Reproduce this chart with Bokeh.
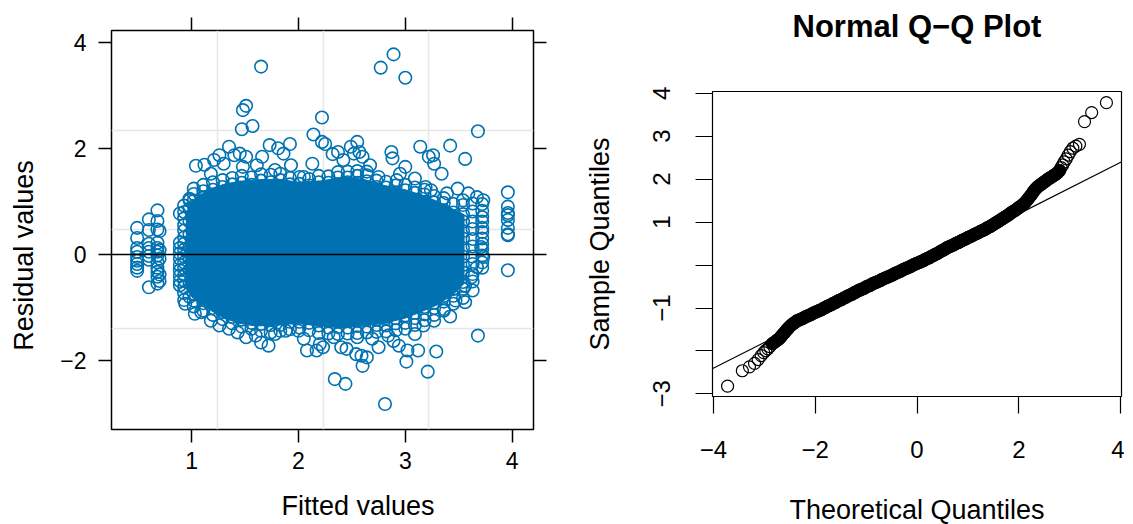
import math
from bokeh.plotting import figure
from bokeh.layouts import row, column
from bokeh.models import FixedTicker, LinearAxis, Span, Slope, Range1d, ColumnDataSource
from bokeh.embed import file_html
from bokeh.resources import INLINE

FONT = "Liberation Sans"
BLUE = "#0072B2"

# ---------------- left panel: residuals vs fitted ----------------
x_ticks = [1, 2, 3, 4]
y_ticks = [-2, 0, 2, 4]
grid_fitted = [1.244, 2.23, 3.22]
grid_resid = [-1.40, 0.47, 2.34]

# isolated columns of points at discrete fitted values
col_fitted = [0.49, 0.60, 0.68, 0.70, 0.89, 3.72, 3.96]
col_resid = [
    [0.50, 0.31, 0.12, 0.05, -0.05, -0.12, -0.18, -0.25, -0.31],
    [0.66, 0.46, 0.20, 0.12, 0.05, -0.03, -0.10, -0.62],
    [0.83, 0.63, 0.47, 0.22, 0.12, 0.05, -0.02, -0.15, -0.25, -0.33, -0.42, -0.55],
    [0.44, 0.08, -0.08, -0.38, -0.50],
    [0.77, 0.22, 0.12, 0.02, -0.08, -0.20, -0.30, -0.40, -0.50, -0.58],
    [0.95, 0.82, 0.70, 0.62, 0.50, 0.42, 0.30, 0.20, 0.10, -0.02, -0.15, -0.25],
    [1.17, 0.90, 0.78, 0.74, 0.65, 0.50, 0.38, 0.36, -0.30],
]

# dense core of the cloud, column by column
core_fitted = [0.93, 0.98, 1.02, 1.11, 1.20, 1.29, 1.38, 1.47, 1.56, 1.65, 1.74, 1.83, 1.92,
               2.01, 2.10, 2.19, 2.28, 2.37, 2.46, 2.55, 2.64, 2.73, 2.82, 2.91, 3.00, 3.09,
               3.18, 3.27, 3.36, 3.45, 3.54, 3.63]
core_resid = [
    [-0.86, -0.73, -0.62, -0.49, -0.39, -0.26, -0.15, -0.04, 0.09, 0.20, 0.32, 0.45, 0.55, 0.68, 0.80, 0.92],
    [-0.80, -0.55, -0.30, -0.08, 0.15, 0.38, 0.62, 0.86, 1.05],
    [-0.98, -0.87, -0.74, -0.63, -0.50, -0.40, -0.27, -0.16, -0.03, 0.07, 0.20, 0.31, 0.43, 0.54, 0.67, 0.78, 0.91, 1.01, 1.14, 1.24],
    [-1.06, -0.92, -0.82, -0.69, -0.59, -0.45, -0.35, -0.21, -0.11, 0.02, 0.13, 0.26, 0.36, 0.50, 0.60, 0.73, 0.83, 0.96, 1.07, 1.19, 1.31],
    [-1.14, -1.01, -0.91, -0.78, -0.65, -0.55, -0.41, -0.31, -0.18, -0.07, 0.06, 0.16, 0.29, 0.40, 0.53, 0.63, 0.76, 0.87, 0.99, 1.12, 1.22, 1.36],
    [-1.22, -1.09, -0.99, -0.85, -0.75, -0.62, -0.52, -0.38, -0.28, -0.14, -0.05, 0.09, 0.19, 0.33, 0.43, 0.56, 0.68, 0.78, 0.92, 1.02, 1.15, 1.27, 1.40],
    [-1.30, -1.18, -1.05, -0.95, -0.81, -0.71, -0.57, -0.47, -0.34, -0.24, -0.10, 0.00, 0.13, 0.25, 0.35, 0.49, 0.59, 0.72, 0.84, 0.95, 1.08, 1.18, 1.32, 1.44],
    [-1.36, -1.23, -1.13, -0.99, -0.90, -0.76, -0.66, -0.52, -0.42, -0.29, -0.19, -0.05, 0.05, 0.19, 0.28, 0.42, 0.54, 0.64, 0.78, 0.87, 1.01, 1.11, 1.25, 1.35, 1.48],
    [-1.40, -1.29, -1.15, -1.05, -0.92, -0.82, -0.68, -0.58, -0.45, -0.35, -0.21, -0.11, 0.03, 0.13, 0.26, 0.36, 0.50, 0.60, 0.74, 0.83, 0.97, 1.07, 1.21, 1.31, 1.45],
    [-1.44, -1.31, -1.21, -1.07, -0.97, -0.84, -0.74, -0.60, -0.50, -0.36, -0.27, -0.13, -0.03, 0.11, 0.21, 0.34, 0.44, 0.58, 0.68, 0.82, 0.91, 1.05, 1.15, 1.29, 1.39, 1.51],
    [-1.47, -1.33, -1.23, -1.10, -1.00, -0.86, -0.76, -0.62, -0.53, -0.39, -0.29, -0.15, -0.06, 0.08, 0.18, 0.32, 0.42, 0.55, 0.65, 0.79, 0.89, 1.03, 1.12, 1.26, 1.36, 1.50],
    [-1.44, -1.33, -1.19, -1.09, -0.96, -0.86, -0.72, -0.62, -0.49, -0.39, -0.25, -0.15, -0.02, 0.08, 0.22, 0.32, 0.46, 0.55, 0.69, 0.79, 0.93, 1.03, 1.16, 1.26, 1.40, 1.52],
    [-1.41, -1.27, -1.17, -1.04, -0.94, -0.80, -0.70, -0.57, -0.47, -0.33, -0.23, -0.09, 0.01, 0.14, 0.24, 0.38, 0.48, 0.61, 0.71, 0.85, 0.95, 1.08, 1.18, 1.32, 1.44],
    [-1.38, -1.27, -1.13, -1.03, -0.90, -0.80, -0.66, -0.56, -0.42, -0.33, -0.19, -0.09, 0.05, 0.15, 0.28, 0.38, 0.52, 0.62, 0.75, 0.85, 0.99, 1.09, 1.23, 1.33, 1.46],
    [-1.43, -1.29, -1.19, -1.05, -0.96, -0.82, -0.72, -0.58, -0.48, -0.35, -0.25, -0.11, -0.01, 0.13, 0.22, 0.36, 0.46, 0.60, 0.69, 0.83, 0.93, 1.07, 1.17, 1.30, 1.42],
    [-1.48, -1.34, -1.24, -1.10, -1.00, -0.87, -0.77, -0.63, -0.53, -0.39, -0.30, -0.16, -0.06, 0.08, 0.18, 0.31, 0.41, 0.55, 0.65, 0.78, 0.88, 1.02, 1.12, 1.26, 1.36, 1.48],
    [-1.49, -1.38, -1.24, -1.14, -1.01, -0.91, -0.77, -0.67, -0.53, -0.44, -0.30, -0.20, -0.06, 0.04, 0.17, 0.27, 0.41, 0.51, 0.65, 0.74, 0.88, 0.98, 1.12, 1.22, 1.35, 1.47],
    [-1.50, -1.37, -1.27, -1.13, -1.04, -0.90, -0.80, -0.66, -0.56, -0.43, -0.33, -0.19, -0.09, 0.05, 0.14, 0.28, 0.38, 0.52, 0.62, 0.75, 0.85, 0.99, 1.09, 1.23, 1.32, 1.45, 1.55],
    [-1.49, -1.38, -1.24, -1.14, -1.00, -0.91, -0.77, -0.67, -0.53, -0.43, -0.30, -0.20, -0.06, 0.04, 0.18, 0.27, 0.41, 0.51, 0.65, 0.75, 0.88, 0.98, 1.12, 1.22, 1.36, 1.45, 1.56],
    [-1.48, -1.35, -1.25, -1.11, -1.01, -0.88, -0.78, -0.64, -0.54, -0.40, -0.31, -0.17, -0.07, 0.07, 0.17, 0.30, 0.40, 0.54, 0.64, 0.78, 0.87, 1.01, 1.11, 1.25, 1.35, 1.48, 1.57],
    [-1.47, -1.36, -1.22, -1.12, -0.98, -0.89, -0.75, -0.65, -0.51, -0.41, -0.28, -0.18, -0.04, 0.06, 0.20, 0.29, 0.43, 0.53, 0.67, 0.77, 0.90, 1.00, 1.14, 1.24, 1.38, 1.49],
    [-1.46, -1.33, -1.23, -1.09, -0.99, -0.86, -0.76, -0.62, -0.52, -0.38, -0.29, -0.15, -0.05, 0.09, 0.19, 0.32, 0.42, 0.56, 0.66, 0.80, 0.89, 1.03, 1.13, 1.27, 1.39],
    [-1.45, -1.34, -1.20, -1.10, -0.96, -0.87, -0.73, -0.63, -0.49, -0.39, -0.26, -0.16, -0.02, 0.08, 0.22, 0.31, 0.45, 0.55, 0.69, 0.79, 0.92, 1.02, 1.16, 1.26, 1.37],
    [-1.43, -1.30, -1.20, -1.06, -0.96, -0.83, -0.73, -0.59, -0.49, -0.35, -0.26, -0.12, -0.02, 0.12, 0.22, 0.35, 0.45, 0.59, 0.69, 0.83, 0.92, 1.06, 1.16, 1.30],
    [-1.40, -1.29, -1.15, -1.05, -0.91, -0.82, -0.68, -0.58, -0.44, -0.34, -0.21, -0.11, 0.03, 0.13, 0.27, 0.36, 0.50, 0.60, 0.74, 0.84, 0.97, 1.07, 1.21, 1.31],
    [-1.33, -1.20, -1.10, -0.96, -0.87, -0.73, -0.63, -0.49, -0.39, -0.26, -0.16, -0.02, 0.08, 0.22, 0.31, 0.45, 0.55, 0.69, 0.79, 0.92, 1.02, 1.16, 1.26],
    [-1.24, -1.13, -0.99, -0.89, -0.76, -0.66, -0.52, -0.42, -0.28, -0.19, -0.05, 0.05, 0.19, 0.29, 0.42, 0.52, 0.66, 0.76, 0.90, 0.99, 1.13, 1.22],
    [-1.14, -1.01, -0.91, -0.77, -0.68, -0.54, -0.44, -0.30, -0.20, -0.07, 0.03, 0.17, 0.27, 0.41, 0.50, 0.64, 0.74, 0.88, 0.98, 1.10],
    [-1.03, -0.89, -0.78, -0.62, -0.51, -0.36, -0.24, -0.10, 0.03, 0.18, 0.29, 0.44, 0.56, 0.71, 0.83, 0.97, 1.06],
    [-0.93, -0.78, -0.65, -0.49, -0.37, -0.20, -0.08, 0.09, 0.21, 0.38, 0.50, 0.67, 0.79, 0.95],
    [-0.82, -0.65, -0.52, -0.34, -0.20, -0.04, 0.12, 0.30, 0.44, 0.62, 0.76, 0.93, 1.02],
    [-0.68, -0.51, -0.37, -0.18, -0.04, 0.15, 0.29, 0.48, 0.62, 0.81, 0.96],
]

# outline of the fully overplotted (solid) centre of the cloud
dense_fitted = [0.95, 1.00, 1.10, 1.20, 1.30, 1.45, 1.60, 1.80, 2.00, 2.20, 2.40, 2.60, 2.80,
                3.00, 3.15, 3.30, 3.45, 3.55,
                3.55, 3.45, 3.30, 3.15, 3.00, 2.80, 2.60, 2.40, 2.20, 2.00, 1.80, 1.60, 1.45,
                1.30, 1.20, 1.10, 1.00, 0.95]
dense_resid = [0.75, 1.00, 1.15, 1.25, 1.32, 1.38, 1.40, 1.42, 1.36, 1.38, 1.45, 1.42, 1.30,
               1.22, 1.12, 1.00, 0.85, 0.75,
               -0.55, -0.75, -0.95, -1.08, -1.20, -1.30, -1.35, -1.38, -1.35, -1.30, -1.33,
               -1.35, -1.30, -1.20, -1.08, -0.95, -0.80, -0.60]

# individual circles around the edge of the cloud and outliers
halo_fitted = [1.04, 1.12, 0.98, 1.18, 1.21, 1.26, 1.30, 1.35, 1.40, 1.45, 1.51, 1.48, 1.61, 1.66,
               1.73, 1.81, 1.86, 1.92, 1.93, 1.78, 2.05, 2.13, 2.25, 2.32, 2.37, 2.42, 2.49, 2.55,
               2.52, 2.57, 2.60, 2.67, 2.64, 2.75, 2.87, 2.88, 2.92, 2.95, 3.00, 3.09, 3.14, 3.22,
               3.27, 3.26, 3.34, 3.19, 3.24, 3.39, 3.49, 3.59, 3.67, 3.73, 3.42, 3.56,
               1.65, 2.77, 2.89, 3.00, 1.48, 1.51, 1.47, 1.57, 2.22, 2.14, 2.22, 3.68,
               0.94, 1.03, 1.09, 1.18, 1.26, 1.35, 1.43, 1.51, 1.60, 1.65, 1.72, 1.78, 1.88, 2.00,
               2.05, 2.08, 2.17, 2.23, 2.20, 2.33, 2.40, 2.45, 2.54, 2.59, 2.64, 2.60, 2.55, 2.69,
               2.75, 2.84, 2.89, 2.94, 3.02, 3.12, 3.01, 3.09, 3.17, 3.29, 3.27, 3.36, 3.42, 3.47,
               3.56, 3.56, 3.62, 3.67, 3.73, 3.71,
               3.21, 2.81, 2.34, 2.44, 3.68]
halo_resid = [1.67, 1.69, 1.02, 1.52, 1.78, 1.87, 1.71, 2.03, 1.87, 1.90, 1.84, 1.65, 1.68, 1.84,
              2.06, 2.00, 1.90, 2.08, 1.68, 1.59, 1.46, 1.71, 2.08, 1.89, 1.93, 1.78, 2.03, 2.12,
              1.90, 1.93, 1.84, 1.68, 1.56, 1.46, 1.93, 1.81, 1.40, 1.52, 1.65, 1.43, 2.03, 1.84,
              1.71, 1.87, 1.52, 1.27, 1.21, 1.15, 1.24, 1.15, 1.08, 1.02, 2.05, 1.80,
              3.54, 3.52, 3.77, 3.33, 2.72, 2.80, 2.36, 2.42, 2.58, 2.26, 2.12, 2.32,
              -0.93, -1.12, -1.09, -1.25, -1.34, -1.40, -1.47, -1.56, -1.53, -1.66, -1.72, -1.50, -1.44, -1.44,
              -1.59, -1.81, -1.81, -1.75, -1.69, -1.56, -1.75, -1.78, -1.88, -1.91, -1.94, -2.10, -1.56, -1.59,
              -1.75, -1.53, -1.63, -1.72, -1.81, -1.81, -2.02, -1.50, -1.34, -1.83, -1.25, -1.06, -1.17, -0.87,
              -0.90, -0.59, -0.43, -0.24, -0.05, 0.14,
              -2.21, -2.82, -2.35, -2.44, -1.53]

# ---------------- right panel: normal Q-Q plot ----------------
qq_x_ticks = [-4, -2, 0, 2, 4]
qq_y_labelled = [-3, -1, 1, 2, 3, 4]
qq_y_unlabelled = [-2, 0]
qq_tail_theo = [-3.72, -3.43, -3.29, -3.19, -3.12, -3.06, -3.01, -2.97, -2.93, -2.89,
                2.83, 2.86, 2.89, 2.93, 2.97, 3.01, 3.06, 3.12, 3.19, 3.29, 3.43, 3.72]
qq_tail_sample = [-2.82, -2.46, -2.37, -2.29, -2.20, -2.11, -2.04, -1.99, -1.95, -1.90,
                  2.27, 2.33, 2.40, 2.47, 2.56, 2.64, 2.72, 2.77, 2.81, 3.34, 3.55, 3.78]
qq_band_theo = [-2.84, -2.80, -2.76, -2.72, -2.68, -2.64, -2.60, -2.56, -2.52, -2.48, -2.44, -2.40,
                -2.36, -2.32, -2.28, -2.24, -2.20, -2.16, -2.12, -2.08, -2.04, -2.00, -1.96, -1.92,
                -1.88, -1.84, -1.80, -1.76, -1.72, -1.68, -1.64, -1.60, -1.56, -1.52, -1.48, -1.44,
                -1.40, -1.36, -1.32, -1.28, -1.24, -1.20, -1.16, -1.12, -1.08, -1.04, -1.00, -0.96,
                -0.92, -0.88, -0.84, -0.80, -0.76, -0.72, -0.68, -0.64, -0.60, -0.56, -0.52, -0.48,
                -0.44, -0.40, -0.36, -0.32, -0.28, -0.24, -0.20, -0.16, -0.12, -0.08, -0.04, 0.00,
                0.04, 0.08, 0.12, 0.16, 0.20, 0.24, 0.28, 0.32, 0.36, 0.40, 0.44, 0.48,
                0.52, 0.56, 0.60, 0.64, 0.68, 0.72, 0.76, 0.80, 0.84, 0.88, 0.92, 0.96,
                1.00, 1.04, 1.08, 1.12, 1.16, 1.20, 1.24, 1.28, 1.32, 1.36, 1.40, 1.44,
                1.48, 1.52, 1.56, 1.60, 1.64, 1.68, 1.72, 1.76, 1.80, 1.84, 1.88, 1.92,
                1.96, 2.00, 2.04, 2.08, 2.12, 2.16, 2.20, 2.24, 2.28, 2.32, 2.36, 2.40,
                2.44, 2.48, 2.52, 2.56, 2.60, 2.64, 2.68, 2.72, 2.76, 2.80]
qq_band_sample = [-1.83, -1.80, -1.76, -1.73, -1.68, -1.62, -1.57, -1.51, -1.46, -1.41, -1.37, -1.34,
                  -1.30, -1.28, -1.26, -1.24, -1.21, -1.19, -1.17, -1.15, -1.12, -1.10, -1.08, -1.06,
                  -1.04, -1.01, -0.99, -0.96, -0.94, -0.92, -0.89, -0.87, -0.84, -0.82, -0.80, -0.77,
                  -0.75, -0.72, -0.70, -0.68, -0.65, -0.63, -0.60, -0.58, -0.56, -0.54, -0.51, -0.49,
                  -0.47, -0.44, -0.42, -0.40, -0.38, -0.36, -0.33, -0.31, -0.29, -0.27, -0.25, -0.23,
                  -0.20, -0.18, -0.16, -0.14, -0.11, -0.09, -0.07, -0.05, -0.03, 0.00, 0.02, 0.04,
                  0.06, 0.08, 0.10, 0.13, 0.15, 0.17, 0.20, 0.22, 0.25, 0.27, 0.30, 0.33,
                  0.35, 0.38, 0.41, 0.43, 0.45, 0.47, 0.50, 0.52, 0.54, 0.57, 0.59, 0.61,
                  0.64, 0.66, 0.68, 0.71, 0.73, 0.75, 0.78, 0.80, 0.82, 0.85, 0.88, 0.90,
                  0.93, 0.96, 0.99, 1.02, 1.05, 1.08, 1.11, 1.14, 1.17, 1.21, 1.24, 1.27,
                  1.30, 1.34, 1.37, 1.41, 1.45, 1.51, 1.57, 1.63, 1.70, 1.76, 1.81, 1.85,
                  1.88, 1.92, 1.95, 1.99, 2.02, 2.05, 2.08, 2.11, 2.15, 2.20]
qq_line_intercept = -0.005
qq_line_slope = 0.599

# where lattice centres its axis titles (data units of the left panel)
xlab_at_fitted = 2.557
ylab_at_resid = -0.02


def style_axis(ax, ticks, overrides, font_size, tick_out, lw, standoff, minor=None):
    ax.ticker = FixedTicker(ticks=ticks, minor_ticks=minor or [])
    ax.major_label_overrides = overrides
    ax.axis_line_color = None
    ax.major_tick_in = 0
    ax.major_tick_out = tick_out
    ax.major_tick_line_width = lw
    ax.major_tick_line_color = "black" if tick_out else None
    ax.minor_tick_in = 0
    ax.minor_tick_out = tick_out
    ax.minor_tick_line_width = lw
    ax.minor_tick_line_color = "black" if minor else None
    ax.major_label_text_font = FONT
    ax.major_label_text_font_size = font_size
    ax.major_label_text_color = "black"
    ax.major_label_standoff = standoff


# flatten the column tables into point lists
lx, ly = [], []
for fx, col in zip(col_fitted + core_fitted, col_resid + core_resid):
    lx += [fx] * len(col)
    ly += col
lx += halo_fitted
ly += halo_resid
left_src = ColumnDataSource(dict(x=lx, y=ly))

p1 = figure(frame_width=422, frame_height=399, x_range=Range1d(0.25, 4.20),
            y_range=Range1d(-3.30, 4.22), output_backend="svg", toolbar_location=None,
            min_border_left=111, min_border_right=39, min_border_top=30, min_border_bottom=95)
p1.xgrid.ticker = FixedTicker(ticks=grid_fitted)
p1.ygrid.ticker = FixedTicker(ticks=grid_resid)
p1.grid.grid_line_color = "#e6e6e6"
p1.grid.grid_line_width = 1.5
p1.outline_line_color = "black"
p1.outline_line_width = 1.5
p1.outline_line_alpha = 1.0
p1.patch(dense_fitted, dense_resid, fill_color=BLUE, line_color=BLUE, line_width=1)
p1.scatter("x", "y", source=left_src, marker="circle", size=12.5, fill_color=None,
           line_color=BLUE, line_width=1.6)
p1.add_layout(Span(location=0, dimension="width", line_color="black", line_width=1.5))

style_axis(p1.xaxis[0], x_ticks, {}, "23px", 13, 1.5, 9)
style_axis(p1.yaxis[0], y_ticks, {-2: "\u22122"}, "23px", 13, 1.5, 12)
# lattice draws unlabelled ticks on the top and right sides too
ax_top = LinearAxis()
style_axis(ax_top, [], {}, "23px", 13, 1.5, 0, minor=x_ticks)
p1.add_layout(ax_top, "above")
ax_right = LinearAxis()
style_axis(ax_right, [], {}, "23px", 13, 1.5, 0, minor=y_ticks)
p1.add_layout(ax_right, "right")

# axis titles (lattice centres them off the panel centre)
ax_xlab = LinearAxis()
style_axis(ax_xlab, [xlab_at_fitted], {xlab_at_fitted: "Fitted values"}, "27px", 0, 1.5, 19)
p1.add_layout(ax_xlab, "below")
ax_ylab = LinearAxis()
style_axis(ax_ylab, [ylab_at_resid], {ylab_at_resid: "Residual values"}, "27px", 0, 1.5, 18)
ax_ylab.major_label_orientation = "parallel"
p1.add_layout(ax_ylab, "left")

# right panel
p2 = figure(frame_width=409, frame_height=305, x_range=Range1d(-4.016, 4.016),
            y_range=Range1d(-3.06, 4.04), output_backend="svg", toolbar_location=None,
            min_border_left=140, min_border_right=3, min_border_top=91, min_border_bottom=128)
p2.grid.visible = False
p2.outline_line_color = "black"
p2.outline_line_width = 1.2
p2.outline_line_alpha = 1.0

p2.add_layout(Slope(gradient=qq_line_slope, y_intercept=qq_line_intercept,
                    line_color="black", line_width=1.2))
p2.line(qq_band_theo, qq_band_sample, line_color="black", line_width=13, line_cap="round")
p2.scatter(qq_band_theo, qq_band_sample, marker="circle", size=12, fill_color=None,
           line_color="black", line_width=1.2)
p2.scatter(qq_tail_theo, qq_tail_sample, marker="circle", size=12, fill_color=None,
           line_color="black", line_width=1.2)

style_axis(p2.xaxis[0], qq_x_ticks, {-4: "\u22124", -2: "\u22122"}, "24px", 17, 1.2, 27)
style_axis(p2.yaxis[0], qq_y_labelled, {-3: "\u22123", -1: "\u22121"},
           "24px", 17, 1.2, 25, minor=qq_y_unlabelled)
p2.yaxis[0].major_label_orientation = "parallel"
p2.xaxis[0].axis_label = "Theoretical Quantiles"
p2.yaxis[0].axis_label = "Sample Quantiles"
for ax in (p2.xaxis[0], p2.yaxis[0]):
    ax.axis_label_text_font = FONT
    ax.axis_label_text_font_size = "27px"
    ax.axis_label_text_font_style = "normal"
    ax.axis_label_text_color = "black"
p2.xaxis[0].axis_label_standoff = 34
p2.yaxis[0].axis_label_standoff = 36

# main title as the label of a tick-less top axis
ax_title = LinearAxis()
style_axis(ax_title, [], {}, "24px", 0, 1.2, 0)
ax_title.axis_label = "Normal Q\u2212Q Plot"
ax_title.axis_label_text_font = FONT
ax_title.axis_label_text_font_size = "31px"
ax_title.axis_label_text_font_style = "bold"
ax_title.axis_label_text_color = "black"
ax_title.axis_label_standoff = 48
p2.add_layout(ax_title, "above")

layout = row(column(p1), column(p2))
open("out.html", "w").write(file_html(layout, INLINE))
